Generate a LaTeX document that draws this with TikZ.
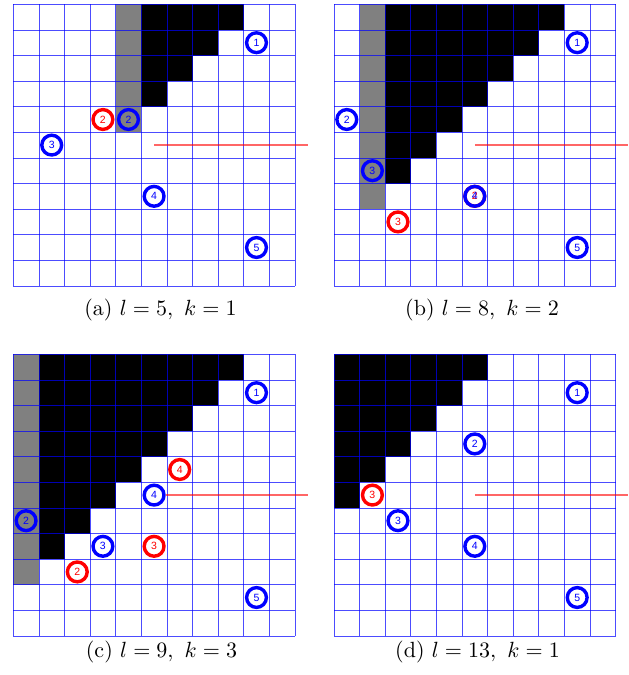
\documentclass[tikz,border=0pt]{standalone}
\usepackage{fontspec}
\newfontfamily\numfont{Liberation Sans}
\begin{document}
\begin{tikzpicture}[x=1pt,y=-1pt,
  gridline/.style={draw=blue, draw opacity=0.7, line width=0.7pt},
  graycell/.style={fill=black!50},
  blackcell/.style={fill=black},
  redline/.style={draw=red, line width=1.5pt, draw opacity=0.6},
  bc/.style={circle, draw=blue, line width=3.4pt, minimum size=19.8pt, inner sep=0pt, text=blue, font=\numfont\fontsize{10.5}{10.5}\selectfont},
  rc/.style={bc, draw=red, text=red},
  capt/.style={scale=2.2, inner sep=0pt}]
\useasboundingbox (0,0) rectangle (629,675);
\newcommand{\cellgrid}{\foreach \i in {0,...,11}{\draw[gridline] (\i,0) -- (\i,11); \draw[gridline] (0,\i) -- (11,\i);}}
% (a)
\begin{scope}[shift={(13.3pt,-4.3pt)}, x=25.6pt, y=-25.6pt]
  \fill[graycell] (4,0) rectangle (5,5);
  \fill[blackcell] (5,0) rectangle (9,1);
  \fill[blackcell] (5,1) rectangle (8,2);
  \fill[blackcell] (5,2) rectangle (7,3);
  \fill[blackcell] (5,3) rectangle (6,4);
  \cellgrid
  \coordinate (aL) at (5.5,5.5);
  \coordinate (aR) at (11.5,5.5);
  \draw[redline] (aL) -- (aR);
  \node[bc] (a1) at (9.5,1.5) {1};
  \node[rc] (ar2) at (3.5,4.5) {2};
  \node[bc] (a2) at (4.5,4.5) {2};
  \node[bc] (a3) at (1.5,5.5) {3};
  \node[bc] (a4) at (5.5,7.5) {4};
  \node[bc] (a5) at (9.5,9.5) {5};
\end{scope}
% (b)
\begin{scope}[shift={(334pt,-4.3pt)}, x=25.6pt, y=-25.6pt]
  \fill[graycell] (1,0) rectangle (2,8);
  \fill[blackcell] (2,0) rectangle (9,1);
  \fill[blackcell] (2,1) rectangle (8,2);
  \fill[blackcell] (2,2) rectangle (7,3);
  \fill[blackcell] (2,3) rectangle (6,4);
  \fill[blackcell] (2,4) rectangle (5,5);
  \fill[blackcell] (2,5) rectangle (4,6);
  \fill[blackcell] (2,6) rectangle (3,7);
  \cellgrid
  \coordinate (bL) at (5.5,5.5);
  \coordinate (bR) at (11.5,5.5);
  \draw[redline] (bL) -- (bR);
  \node[bc] (b1) at (9.5,1.5) {1};
  \node[bc] (b2) at (0.5,4.5) {2};
  \node[bc] (b3) at (1.5,6.5) {3};
  \node[rc] (br3) at (2.5,8.5) {3};
  \node[rc] (br2) at (5.5,7.5) {2};
  \node[bc] (b4) at (5.5,7.5) {4};
  \node[bc] (b5) at (9.5,9.5) {5};
\end{scope}
% (c)
\begin{scope}[shift={(13.3pt,-354.3pt)}, x=25.6pt, y=-25.6pt]
  \fill[graycell] (0,0) rectangle (1,9);
  \fill[blackcell] (1,0) rectangle (9,1);
  \fill[blackcell] (1,1) rectangle (8,2);
  \fill[blackcell] (1,2) rectangle (7,3);
  \fill[blackcell] (1,3) rectangle (6,4);
  \fill[blackcell] (1,4) rectangle (5,5);
  \fill[blackcell] (1,5) rectangle (4,6);
  \fill[blackcell] (1,6) rectangle (3,7);
  \fill[blackcell] (1,7) rectangle (2,8);
  \cellgrid
  \node[bc] (c1) at (9.5,1.5) {1};
  \node[rc] (cr4) at (6.5,4.5) {4};
  \node[bc] (c4) at (5.5,5.5) {4};
  \coordinate (cR) at (11.5,5.5);
  \draw[redline] (c4.east) -- (cR);
  \node[bc] (c2) at (0.5,6.5) {2};
  \node[bc] (c3) at (3.5,7.5) {3};
  \node[rc] (cr3) at (5.5,7.5) {3};
  \node[rc] (cr2) at (2.5,8.5) {2};
  \node[bc] (c5) at (9.5,9.5) {5};
\end{scope}
% (d)
\begin{scope}[shift={(334pt,-354.3pt)}, x=25.6pt, y=-25.6pt]
  \fill[blackcell] (0,0) rectangle (6,1);
  \fill[blackcell] (0,1) rectangle (5,2);
  \fill[blackcell] (0,2) rectangle (4,3);
  \fill[blackcell] (0,3) rectangle (3,4);
  \fill[blackcell] (0,4) rectangle (2,5);
  \fill[blackcell] (0,5) rectangle (1,6);
  \cellgrid
  \coordinate (dL) at (5.5,5.5);
  \coordinate (dR) at (11.5,5.5);
  \draw[redline] (dL) -- (dR);
  \node[bc] (d1) at (9.5,1.5) {1};
  \node[bc] (d2) at (5.5,3.5) {2};
  \node[rc] (dr3) at (1.5,5.5) {3};
  \node[bc] (d3) at (2.5,6.5) {3};
  \node[bc] (d4) at (5.5,7.5) {4};
  \node[bc] (d5) at (9.5,9.5) {5};
\end{scope}
% captions
\node[capt] (capa) at (160.5,310) {(a) $l=5,\ k=1$};
\node[capt] (capb) at (482,310) {(b) $l=8,\ k=2$};
\node[capt] (capc) at (161.5,652) {(c) $l=9,\ k=3$};
\node[capt] (capd) at (477.5,652) {(d) $l=13,\ k=1$};
\end{tikzpicture}
\end{document}
